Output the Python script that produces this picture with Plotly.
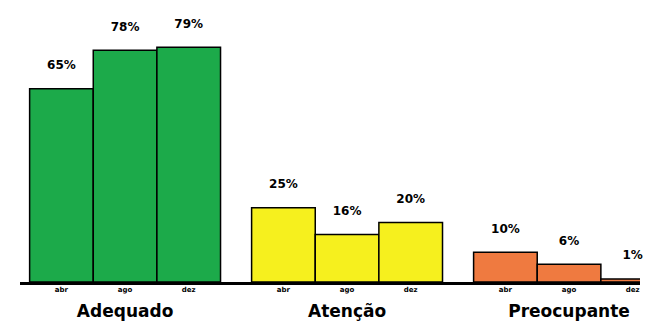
import plotly.graph_objects as go

# --- data ----------------------------------------------------------------
groups = ["Adequado", "Atenção", "Preocupante"]
months = ["abr", "ago", "dez"]
abr_values = [65, 25, 10]
ago_values = [78, 16, 6]
dez_values = [79, 20, 1]
group_colours = ["#1caa4a", "#f6f01e", "#ef7a40"]

BARGAP = 0.14
FONT = "DejaVu Sans"

fig = go.Figure()
for month, values in zip(months, [abr_values, ago_values, dez_values]):
    fig.add_trace(
        go.Bar(
            x=groups,
            y=values,
            name=month,
            marker={"color": group_colours, "line": {"color": "black", "width": 1.5}},
            # a small blank second line lifts the label off the bar top
            text=[f"{v}%<br><span style='font-size:5px'> </span>" for v in values],
            textposition="outside",
            textfont={"family": FONT, "size": 12, "color": "black", "weight": "bold"},
            cliponaxis=False,
            showlegend=False,
            hoverinfo="skip",
        )
    )

# month tick positions follow plotly's grouped-bar offsets
bar_w = (1 - BARGAP) / len(months)
month_pos = [gi + (mi - (len(months) - 1) / 2) * bar_w for gi in range(len(groups)) for mi in range(len(months))]
month_txt = [m for _ in groups for m in months]

x_range = [-0.473, 2.32]
fig.add_trace(go.Scatter(x=month_pos, y=[0] * len(month_pos), xaxis="x2", mode="markers",
                         marker={"opacity": 0}, showlegend=False, hoverinfo="skip"))

x_domain = [0.018, 0.942]
fig.update_layout(
    width=671,
    height=322,
    barmode="group",
    bargap=BARGAP,
    bargroupgap=0,
    plot_bgcolor="white",
    paper_bgcolor="white",
    margin={"l": 0, "r": 0, "t": 0, "b": 48, "autoexpand": False},
    xaxis={
        "domain": x_domain,
        "range": x_range,
        "showline": True,
        "linecolor": "black",
        "linewidth": 3,
        "ticks": "outside",
        "ticklen": 12,
        "tickcolor": "rgba(0,0,0,0)",
        "tickfont": {"family": FONT, "size": 17, "color": "black", "weight": "bold"},
        "showgrid": False,
        "automargin": False,
    },
    xaxis2={
        "domain": x_domain,
        "range": x_range,
        "overlaying": "x",
        "anchor": "y",
        "side": "bottom",
        "tickmode": "array",
        "tickvals": month_pos,
        "ticktext": month_txt,
        "ticks": "outside",
        "ticklen": 1,
        "tickcolor": "rgba(0,0,0,0)",
        "tickfont": {"family": FONT, "size": 7, "color": "black", "weight": "bold"},
        "showgrid": False,
        "showline": False,
        "zeroline": False,
        "automargin": False,
    },
    yaxis={"range": [0, 92.2], "visible": False},
)

fig.write_html("out.html")
